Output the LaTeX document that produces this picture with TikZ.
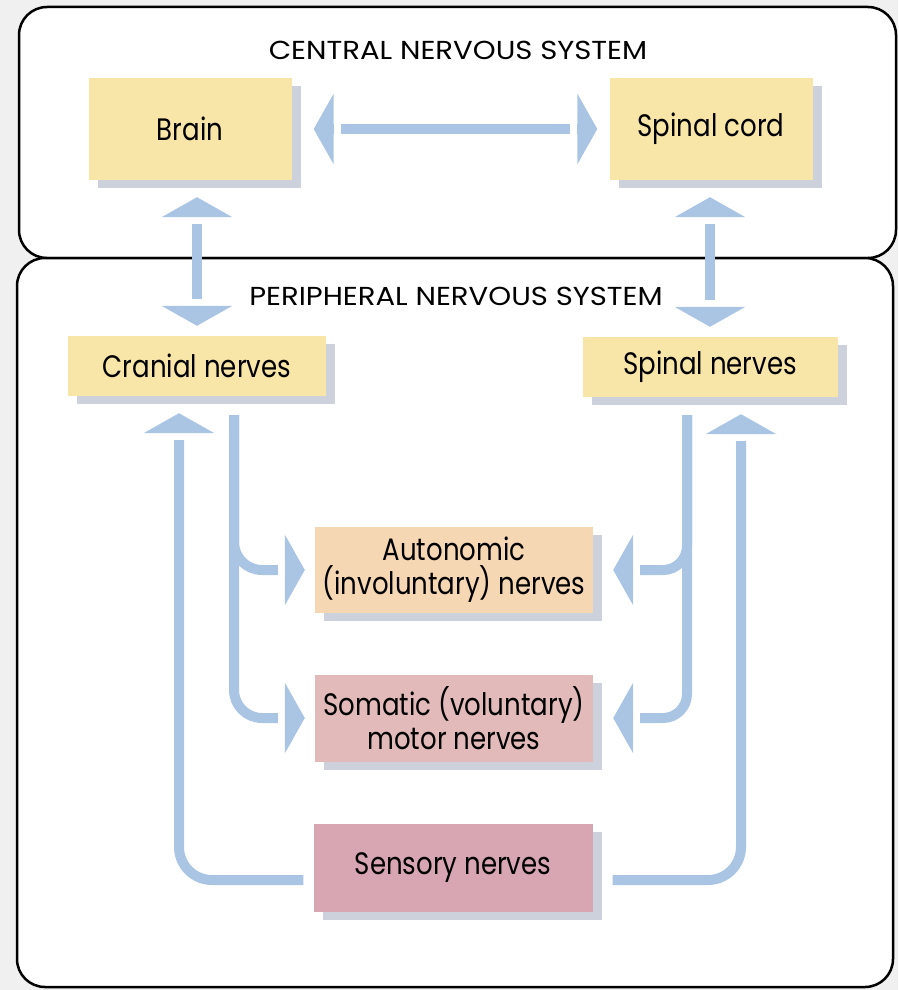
\documentclass[tikz,border=0pt]{standalone}
\usepackage{fontspec}
\setmainfont{Poppins}
\newfontfamily\boxfont[FakeStretch=0.84]{Poppins}
\newfontfamily\titlefont[FakeStretch=1.12]{Poppins}
\usetikzlibrary{arrows.meta,shadows}
\definecolor{nsBlue}{RGB}{170,197,228}
\definecolor{nsYellow}{RGB}{248,229,168}
\definecolor{nsPeach}{RGB}{246,215,180}
\definecolor{nsRose}{RGB}{226,186,186}
\definecolor{nsMauve}{RGB}{215,166,178}
\definecolor{nsShadow}{RGB}{204,209,219}
\definecolor{nsBack}{RGB}{240,240,240}

\tikzset{
  nerve tip/.tip={Rectangle[length=7pt,width=12pt,sep=0pt,color=white] Triangle[width=70pt,length=20pt]},
  nbox/.style={rectangle, fill=#1, inner sep=0pt, align=center,
    font=\boxfont\fontsize{31}{34}\selectfont,
    general shadow={fill=nsShadow, shadow xshift=9pt, shadow yshift=-8pt}},
  title/.style={font=\titlefont\fontsize{26}{30}\selectfont},
  panel/.style={line width=2.5pt, rounded corners=28pt, fill=white},
  flow/.style={line width=10pt, draw=nsBlue, -nerve tip},
  twoway/.style={line width=10pt, draw=nsBlue, nerve tip-nerve tip},
}

\begin{document}
\begin{tikzpicture}[x=1pt,y=-1pt]
\fill[nsBack] (0,0) rectangle (898,990);
\useasboundingbox (0,0) rectangle (898,990);

% the two panels
\filldraw[panel] (19,7) rectangle (896,258);
\filldraw[panel] (17,258) rectangle (893,987);
\node[title] (cnsT) at (458,50) {CENTRAL NERVOUS SYSTEM};
\node[title] (pnsT) at (456,296) {PERIPHERAL NERVOUS SYSTEM};

% CNS
\node[nbox=nsYellow, minimum width=203pt, minimum height=102pt] (brain) at (190,129) {Brain};
\node[nbox=nsYellow, minimum width=203pt, minimum height=102pt] (cord) at (711,129) {Spinal cord};

% PNS
\node[nbox=nsYellow, minimum width=258pt, minimum height=60pt] (cranial) at (197,366) {Cranial nerves};
\node[nbox=nsYellow, minimum width=255pt, minimum height=60pt] (spinal) at (710,367) {Spinal nerves};
\node[nbox=nsPeach, minimum width=278pt, minimum height=86pt] (auto) at (454,570) {Autonomic\\(involuntary) nerves};
\node[nbox=nsRose, minimum width=278pt, minimum height=87pt] (soma) at (454,718) {Somatic (voluntary)\\motor nerves};
\node[nbox=nsMauve, minimum width=279pt, minimum height=88pt] (sensory) at (453,868) {Sensory nerves};

% bus lines
\coordinate (cl) at (234,415);
\coordinate (cr) at (687,415);
\coordinate (lo) at (179,0);
\coordinate (ro) at (741,0);

% arrows
\draw[twoway, shorten <=22pt, shorten >=12pt] (brain) -- (cord);
\draw[twoway, shorten <=17pt, shorten >=10pt] (brain.south -| cranial.north) -- (cranial.north);
\draw[twoway, shorten <=17pt, shorten >=10pt] (cord.south -| spinal.north) -- (spinal.north);

\draw[flow, rounded corners=28pt, shorten >=10pt] (cl) |- (auto.west);
\draw[flow, rounded corners=28pt, shorten >=10pt] (cl) |- (soma.west);
\draw[flow, rounded corners=24pt, shorten >=20pt] (cr) |- (auto.east);
\draw[flow, rounded corners=24pt, shorten >=20pt] (cr) |- (soma.east);

\draw[flow, rounded corners=33pt, shorten <=10pt, shorten >=17pt] ([yshift=-12pt]sensory.west) -| (cranial.south -| lo);
\draw[flow, rounded corners=33pt, shorten <=20pt, shorten >=17pt] ([yshift=-12pt]sensory.east) -| (spinal.south -| ro);
\end{tikzpicture}
\end{document}
